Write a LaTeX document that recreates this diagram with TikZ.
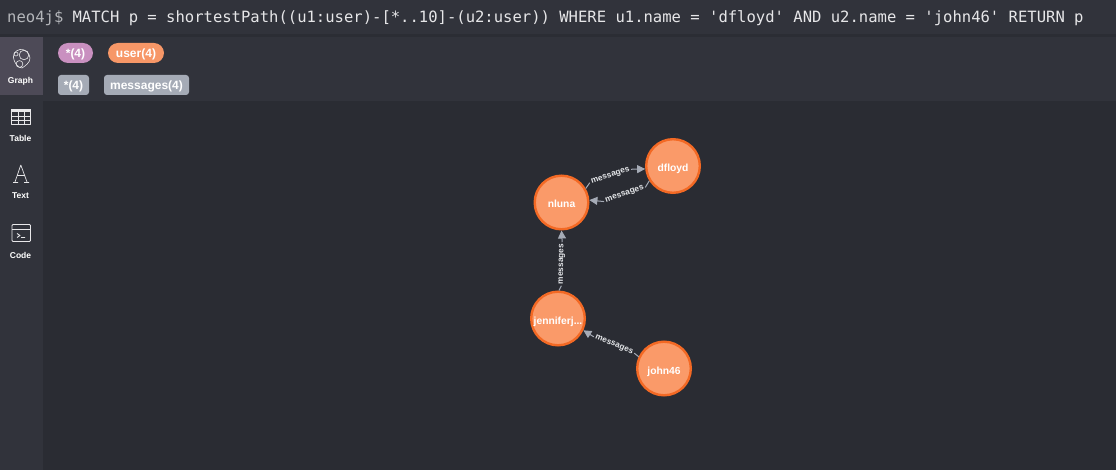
\documentclass[tikz,border=0pt]{standalone}
\usepackage{fontspec}
\setmainfont{Liberation Sans}
\newfontfamily\monof{DejaVu Sans Mono}
\usetikzlibrary{arrows.meta}
\definecolor{canvasbg}{HTML}{2A2C33}
\definecolor{barbg}{HTML}{31333B}
\definecolor{barline}{HTML}{2B2D34}
\definecolor{activebg}{HTML}{4D4A57}
\definecolor{pinkpill}{HTML}{C990C0}
\definecolor{orangepill}{HTML}{F79767}
\definecolor{greypill}{HTML}{A5ABB6}
\definecolor{nodefill}{HTML}{FA9A69}
\definecolor{nodeline}{HTML}{F36924}
\definecolor{promptc}{HTML}{B4B6BA}
\definecolor{queryc}{HTML}{E6E6E8}
\definecolor{edgec}{HTML}{A5ABB6}
\definecolor{iconc}{HTML}{E8E8EA}
\tikzset{
  x=1pt,y=-1pt,
  usernode/.style={circle,draw=nodeline,line width=2.4pt,fill=nodefill,minimum size=53.6pt,inner sep=0pt,text=white,text height=11pt,text depth=0pt,font=\bfseries\fontsize{10.3}{12}\selectfont},
  msglabel/.style={text=edgec!30!white,font=\bfseries\fontsize{8.3}{10}\selectfont,inner xsep=1.5pt,inner ysep=0pt,minimum height=8pt},
  rel/.style={draw=edgec,line width=1pt},
  relarrow/.style={rel,-{Triangle[length=8pt,width=8pt]}},
  pilltext/.style={text=white,font=\bfseries\fontsize{12}{14}\selectfont,inner sep=0pt,minimum height=20pt,text height=8.2pt,text depth=0pt},
  sidelabel/.style={text=white,font=\bfseries\fontsize{8.5}{11}\selectfont,inner sep=0pt},
  querytext/.style={anchor=base west,inner sep=0pt,font=\monof\fontsize{15.55}{18}\selectfont},
  icon/.style={draw=iconc,line width=0.9pt,line join=round}
}
\begin{document}
\begin{tikzpicture}
\useasboundingbox (0,0) rectangle (1116,470);
\fill[canvasbg] (0,0) rectangle (1116,470);
% bars
\fill[barbg] (0,0) rectangle (1116,34);
\fill[barline] (0,34) rectangle (1116,37);
\fill[barbg] (0,37) rectangle (43,470);
\fill[barbg] (43,37) rectangle (1116,101);
\fill[activebg] (0,37) rectangle (43,95);
% query
\node[querytext,text=promptc] (prompt) at (7,22.5) {neo4j\$};
\node[querytext,text=queryc] (query) at (72.4,22.5) {MATCH p = shortestPath((u1:user)-[*..10]-(u2:user)) WHERE u1.name = 'dfloyd' AND u2.name = 'john46' RETURN p};
% legend
\node[pilltext,fill=pinkpill,rounded corners=10pt,minimum width=35pt] (p1) at (75.5,53) {*(4)};
\node[pilltext,fill=orangepill,rounded corners=10pt,minimum width=56pt] (p2) at (136,53) {user(4)};
\node[pilltext,fill=greypill,rounded corners=3pt,minimum width=31pt] (p3) at (73.5,85) {*(4)};
\node[pilltext,fill=greypill,rounded corners=3pt,minimum width=85pt] (p4) at (146.5,85) {messages(4)};
% sidebar labels
\node[sidelabel] (s1) at (20.5,81) {Graph};
\node[sidelabel] (s2) at (20.5,138.5) {Table};
\node[sidelabel] (s3) at (20.5,195.5) {Text};
\node[sidelabel] (s4) at (20.5,255) {Code};
% graph icon
\draw[icon,line width=0.6pt] (20,49.5) .. controls (25,48.5) and (30,54) .. (30,58) .. controls (30,63) and (25,66) .. (22,68) .. controls (18,68) and (15,63) .. (14,60) .. controls (12,56) and (15,50) .. (20,49.5);
\draw[icon,line width=0.6pt] (24,55) circle (4.8pt) (19.5,64) circle (3.4pt) (16,54) circle (2pt);
% table icon
\draw[icon] (11.5,109.5) rectangle (30.5,124.5);
\fill[iconc] (11.5,109.5) rectangle (30.5,112.5);
\draw[icon] (11.5,116.5) -- (30.5,116.5) (11.5,120.5) -- (30.5,120.5) (18,112) -- (18,124.5) (24.5,112) -- (24.5,124.5);
% text icon
\draw[icon,line width=0.7pt] (20.8,165) -- (15,182) (20.8,165) -- (27,182) (17,175.5) -- (25,175.5) (13,182.5) -- (18,182.5) (24,182.5) -- (29,182.5);
% code icon
\draw[icon,rounded corners=1pt] (12,224.5) rectangle (30.5,241.5);
\draw[icon] (12,229.5) -- (30.5,229.5);
\draw[icon] (17,233.5) -- (20,235.5) -- (17,237.5) (21,237.5) -- (25,237.5);
% graph nodes
\node[usernode] (nluna) at (561.5,202.5) {nluna};
\node[usernode] (dfloyd) at (673,166) {dfloyd};
\node[usernode] (jennifer) at (558,318.5) {jenniferj...};
\node[usernode] (john) at (664,368.5) {john46};
% edge labels
\node[msglabel,rotate=18] (m1) at (610.5,176) {messages};
\node[msglabel,rotate=19] (m2) at (624.7,194.5) {messages};
\node[msglabel,rotate=89] (m3) at (561.8,264) {messages};
\node[msglabel,rotate=-22] (m4) at (614,345) {messages};
% connectors
\draw[rel] (nluna.30) -- (m1.west);
\draw[relarrow] (m1.east) -- (dfloyd.186);
\draw[rel] (dfloyd.212) -- (m2.east);
\draw[relarrow] (m2.west) -- (nluna.5);
\draw[rel] (jennifer.88) -- (m3.west);
\draw[relarrow] (m3.east) -- (nluna.270);
\draw[rel] (john.155) -- (m4.east);
\draw[relarrow] (m4.west) -- (jennifer.335);
\end{tikzpicture}
\end{document}
